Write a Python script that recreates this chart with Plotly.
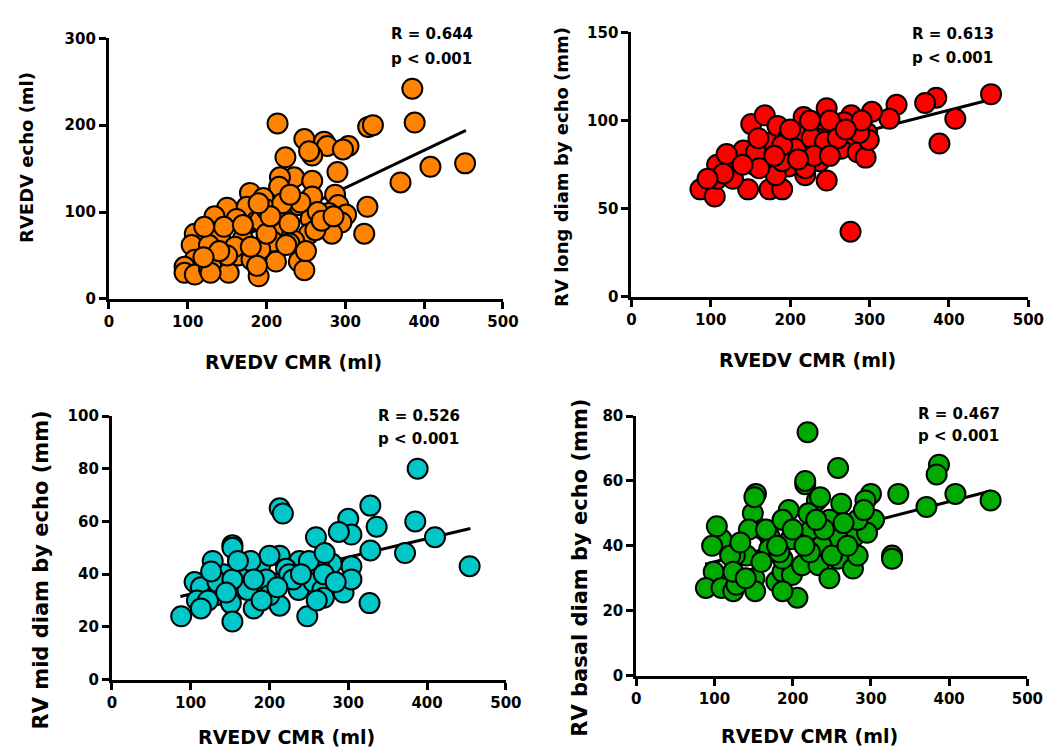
import plotly.graph_objects as go

# ---------------- data ----------------
# Panel 1: RVEDV echo (ml) vs RVEDV CMR (ml)
p1_x = [385, 388, 214, 329, 335, 452, 408, 370, 328, 324,
        248, 273, 277, 258, 254, 304, 297, 224, 290, 235,
        217, 258, 216, 179, 196, 258, 287, 241, 291, 279,
        301, 295, 150, 134, 175, 188, 216, 256, 283, 254,
        235, 216, 170, 141, 109, 105, 127, 109, 96, 96,
        109, 127, 130, 152, 164, 181, 190, 199, 212, 241,
        248, 229, 192, 208, 243, 162, 208, 192, 225, 188,
        129, 200, 229, 262, 146, 121, 160, 180, 200, 220,
        265, 230, 205, 150, 140, 120, 170, 250, 190, 270, 285]
p1_y = [242, 203, 202, 198, 200, 156, 152, 134, 106, 75,
        184, 181, 176, 165, 170, 176, 172, 163, 146, 140,
        140, 136, 129, 122, 116, 118, 120, 108, 108, 99,
        97, 88, 105, 95, 106, 90, 97, 92, 75, 75,
        67, 69, 69, 71, 75, 62, 62, 45, 37, 30,
        28, 34, 41, 30, 50, 45, 26, 56, 43, 43,
        33, 64, 90, 79, 111, 92, 66, 57, 62, 38,
        30, 103, 87, 79, 83, 83, 60, 60, 75, 110,
        100, 120, 95, 50, 55, 48, 85, 55, 110, 90, 95]

# Panel 2: RV long diam by echo (mm)
p2_x = [453, 384, 370, 334, 408, 325, 303, 388, 276, 87,
        105, 108, 108, 128, 147, 174, 190, 141, 151, 168,
        170, 178, 184, 198, 198, 214, 217, 219, 219, 237,
        246, 240, 246, 256, 264, 280, 285, 295, 297, 299,
        233, 207, 182, 155, 128, 116, 157, 190, 277, 219,
        227, 244, 161, 268, 287, 190, 120, 96, 200, 250,
        260, 230, 210, 290, 270, 180, 160, 140, 250, 225]
p2_y = [115, 113, 110, 109, 101, 101, 105, 87, 37, 61,
        57, 75, 67, 72, 61, 61, 61, 83, 98, 103,
        80, 88, 97, 74, 91, 82, 102, 93, 69, 77,
        66, 96, 107, 98, 84, 92, 82, 79, 93, 89,
        90, 84, 69, 75, 67, 70, 82, 77, 103, 73,
        90, 88, 73, 99, 93, 86, 81, 67, 95, 100,
        90, 80, 78, 100, 95, 80, 90, 75, 80, 100]

# Panel 3: RV mid diam by echo (mm)
p3_x = [388, 328, 385, 300, 304, 336, 410, 372, 328, 454,
        304, 327, 213, 217, 153, 153, 259, 288, 279, 238,
        213, 170, 142, 128, 105, 113, 132, 108, 88, 151,
        153, 180, 172, 198, 213, 237, 248, 256, 267, 294,
        263, 221, 122, 113, 188, 196, 304, 134, 153, 269,
        225, 200, 176, 126, 269, 284, 200, 230, 250, 180,
        160, 240, 270, 210, 145, 190, 260]
p3_y = [80, 66, 60, 61, 55, 58, 54, 48, 49, 43,
        43, 29, 65, 63, 51, 50, 54, 56, 44, 45,
        47, 42, 40, 45, 37, 35, 32, 30, 24, 29,
        22, 27, 34, 35, 28, 34, 24, 37, 34, 33,
        43, 42, 30, 27, 43, 38, 38, 37, 38, 31,
        40, 47, 45, 41, 40, 37, 32, 38, 45, 38,
        45, 40, 48, 35, 33, 30, 30]

# Panel 4: RV basal diam by echo (mm)
p4_x = [219, 258, 387, 384, 408, 453, 371, 335, 300, 293,
        304, 327, 327, 216, 216, 153, 149, 195, 262, 247,
        231, 224, 279, 258, 237, 197, 170, 162, 170, 141,
        126, 109, 103, 97, 99, 89, 109, 124, 128, 151,
        152, 179, 187, 199, 206, 212, 233, 247, 258, 277,
        283, 187, 151, 295, 220, 144, 187, 222, 166, 250,
        235, 187, 183, 120, 133, 124, 283, 291, 200, 240,
        265, 180, 215, 160, 140, 270, 230]
p4_y = [75, 64, 65, 62, 56, 54, 52, 56, 56, 54,
        48, 37, 36, 59, 60, 56, 50, 51, 53, 48,
        54, 45, 43, 42, 40, 42, 43, 45, 39, 37,
        37, 42, 46, 40, 32, 27, 27, 26, 28, 30,
        26, 29, 32, 31, 24, 34, 34, 30, 36, 33,
        37, 26, 55, 44, 50, 45, 36, 38, 45, 37,
        55, 48, 38, 37, 41, 32, 48, 51, 45, 45,
        47, 40, 40, 35, 30, 40, 48]

# Regression lines (end points)
fit1_x = [90, 453]; fit1_y = [37, 194]
fit2_x = [87, 453]; fit2_y = [70, 112]
fit3_x = [87, 455]; fit3_y = [31.5, 57.3]
fit4_x = [88, 453]; fit4_y = [34.3, 56.9]

stats = [("R = 0.644", "p < 0.001"), ("R = 0.613", "p < 0.001"),
         ("R = 0.526", "p < 0.001"), ("R = 0.467", "p < 0.001")]

y_titles = ["RVEDV echo (ml)", "RV long diam by echo (mm)",
            "RV mid diam by echo (mm)", "RV basal diam by echo (mm)"]
x_title = "RVEDV CMR (ml)"
colors = ["#FF8200", "#FF0000", "#00C8C8", "#00AA00"]

y_ranges = [[0, 300], [0, 150], [0, 100], [0, 80]]
y_ticks = [[0, 100, 200, 300], [0, 50, 100, 150],
           [0, 20, 40, 60, 80, 100], [0, 20, 40, 60, 80]]
x_ticks = [0, 100, 200, 300, 400, 500]

# ---------------- layout geometry (pixels of a 1062x751 page) ----------------
W, H = 1062, 751
px_x = [(106, 508), (639, 1044), (109, 511), (644, 1043)]
px_y = [(30, 297), (24, 295), (417, 687), (417, 683)]
stat_pos = [(392, 26, 51), (923, 26, 50), (378, 417, 441), (929, 415, 437)]
ytitle_pos = [(22, 152), (567, 162), (37, 575), (587, 572)]
ytitle_size = [18, 18, 21, 21]
xtitle_pos = [(294, 362), (819, 360), (287, 746), (821, 745)]

FONT = "DejaVu Sans, Verdana, Arial"

panels = [(p1_x, p1_y, fit1_x, fit1_y), (p2_x, p2_y, fit2_x, fit2_y),
          (p3_x, p3_y, fit3_x, fit3_y), (p4_x, p4_y, fit4_x, fit4_y)]

fig = go.Figure()
annotations = []
for i, (xs, ys, fx, fy) in enumerate(panels):
    n = "" if i == 0 else str(i + 1)
    fig.add_trace(go.Scatter(x=fx, y=fy, mode="lines",
                             line=dict(color="black", width=3),
                             xaxis="x" + n, yaxis="y" + n, showlegend=False,
                             hoverinfo="skip", cliponaxis=False))
    fig.add_trace(go.Scatter(x=xs, y=ys, mode="markers",
                             marker=dict(size=20, color=colors[i],
                                         line=dict(color="black", width=2)),
                             xaxis="x" + n, yaxis="y" + n, showlegend=False,
                             cliponaxis=False))
    x0, x1 = px_x[i]
    yt, yb = px_y[i]
    common = dict(showline=True, linewidth=3, linecolor="black",
                  ticks="outside", ticklen=7, tickwidth=3, tickcolor="black",
                  showgrid=False, zeroline=False,
                  tickfont=dict(family=FONT, size=15, color="black", weight="bold"))
    fig.update_layout(**{
        "xaxis" + n: dict(domain=[x0 / W, x1 / W], range=[0, 500],
                          tickvals=x_ticks, anchor="y" + n, **common),
        "yaxis" + n: dict(domain=[1 - yb / H, 1 - yt / H], range=y_ranges[i],
                          tickvals=y_ticks[i], anchor="x" + n, **common),
    })
    sx, sy1, sy2 = stat_pos[i]
    for txt, yy in zip(stats[i], (sy1, sy2)):
        annotations.append(dict(text=txt, x=sx / W, y=1 - yy / H, xref="paper",
                                yref="paper", xanchor="left", yanchor="middle",
                                showarrow=False,
                                font=dict(family=FONT, size=15, color="black",
                                          weight="bold")))
    tx, ty = ytitle_pos[i]
    annotations.append(dict(text=y_titles[i], x=tx / W, y=1 - ty / H,
                            xref="paper", yref="paper", xanchor="center",
                            yanchor="middle", textangle=-90, showarrow=False,
                            font=dict(family=FONT, size=ytitle_size[i],
                                      color="black", weight="bold")))
    tx, ty = xtitle_pos[i]
    annotations.append(dict(text=x_title, x=tx / W, y=1 - ty / H,
                            xref="paper", yref="paper", xanchor="center",
                            yanchor="middle", showarrow=False,
                            font=dict(family=FONT, size=19, color="black",
                                      weight="bold")))

fig.update_layout(width=W, height=H, margin=dict(l=0, r=0, t=0, b=0),
                  paper_bgcolor="white", plot_bgcolor="white",
                  annotations=annotations, showlegend=False)

fig.write_html("out.html")
